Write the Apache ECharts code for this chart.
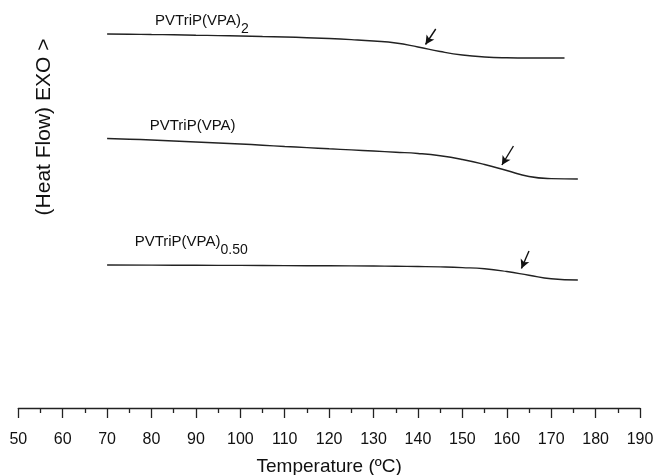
<!DOCTYPE html>
<html><head><meta charset="utf-8">
<script src="https://cdn.jsdelivr.net/npm/echarts@6/dist/echarts.min.js"></script>
<style>html,body{margin:0;padding:0;background:#fff}#c{width:657px;height:475px}</style>
</head><body><div id="c"></div>
<script>
// Temperature (°C) and heat flow (arbitrary units, EXO up)
const temps1 = [70, 75, 80, 85, 90, 95, 100, 105, 110, 115, 120, 125, 130, 135, 140, 145, 150, 155, 160, 165, 170, 173];
const flow1  = [37.4, 37.38, 37.35, 37.32, 37.28, 37.24, 37.2, 37.15, 37.1, 37.03, 36.95, 36.84, 36.7, 36.5, 36.1, 35.65, 35.3, 35.1, 35.02, 35.0, 35.0, 35.0];
const temps2 = [70, 75, 80, 85, 90, 95, 100, 105, 110, 115, 120, 125, 130, 135, 140, 145, 150, 155, 160, 165, 170, 176];
const flow2  = [26.95, 26.88, 26.8, 26.7, 26.6, 26.5, 26.4, 26.28, 26.15, 26.04, 25.92, 25.81, 25.7, 25.58, 25.45, 25.22, 24.85, 24.35, 23.75, 23.15, 22.94, 22.9];
const temps3 = [70, 80, 90, 100, 110, 120, 130, 135, 140, 145, 150, 155, 160, 165, 170, 176];
const flow3  = [14.3, 14.29, 14.27, 14.26, 14.24, 14.22, 14.2, 14.18, 14.15, 14.11, 14.04, 13.92, 13.65, 13.28, 12.92, 12.8];

const seriesNames = ['PVTriP(VPA)', 'PVTriP(VPA)', 'PVTriP(VPA)'];
const subscripts = ['2', '', '0.50'];
const labelAnchors = [[80.8, 38.6], [79.6, 28.1], [76.2, 16.5]];
// Tg arrows: [start(T,flow), end(T,flow)]
const arrows = [
  [[144.0, 37.9], [141.7, 36.35]],
  [[161.5, 26.2], [158.9, 24.3]],
  [[165.0, 15.7], [163.3, 13.95]]
];
const xTicks = {min: 50, max: 190, interval: 10};

const FONT = '"Liberation Sans", Arial, sans-serif';
const pairs = [[temps1, flow1], [temps2, flow2], [temps3, flow3]];

const series = pairs.map(([t, f], i) => ({
  type: 'line',
  name: seriesNames[i] + subscripts[i],
  data: t.map((x, k) => [x, f[k]]),
  smooth: 0.5,
  showSymbol: false,
  lineStyle: {color: '#222', width: 1.4},
  markLine: {
    silent: true,
    symbol: ['none', 'arrow'],
    symbolSize: [7, 9],
    label: {show: false},
    lineStyle: {color: '#111', width: 1.4, type: 'solid'},
    data: [[{coord: arrows[i][0]}, {coord: arrows[i][1]}]]
  },
  markPoint: {
    silent: true,
    symbol: 'circle',
    symbolSize: 0,
    data: [{coord: labelAnchors[i]}],
    label: {
      show: true,
      position: 'right',
      distance: 0,
      formatter: '{m|' + seriesNames[i] + '}' + (subscripts[i] ? '{s|' + subscripts[i] + '}' : ''),
      rich: {
        m: {fontSize: 15, fontFamily: FONT, color: '#111', verticalAlign: 'top', lineHeight: 17},
        s: {fontSize: 14, fontFamily: FONT, color: '#111', verticalAlign: 'top', padding: [9, 0, 0, 0], lineHeight: 16}
      }
    }
  }
}));

const chart = echarts.init(document.getElementById('c'), null, {renderer: 'canvas'});
chart.setOption({
  animation: false,
  backgroundColor: '#fff',
  grid: {left: 18.3, right: 17, top: 0, bottom: 67, containLabel: false, outerBoundsMode: 'none'},
  xAxis: {
    type: 'value',
    min: xTicks.min, max: xTicks.max, interval: xTicks.interval,
    axisLine: {lineStyle: {color: '#222', width: 1.3}},
    axisTick: {length: 10, lineStyle: {color: '#222', width: 1.3}},
    minorTick: {show: true, splitNumber: 2, length: 5, lineStyle: {color: '#222', width: 1.3}},
    splitLine: {show: false},
    axisLabel: {fontSize: 16, fontFamily: FONT, color: '#111', margin: 24},
    name: 'Temperature (ºC)',
    nameLocation: 'middle',
    nameGap: 49,
    nameTextStyle: {fontSize: 19, fontFamily: FONT, color: '#111'}
  },
  yAxis: {
    type: 'value', min: 0, max: 40.8,
    show: false
  },
  graphic: [{
    type: 'text',
    x: 44, y: 127,
    rotation: Math.PI / 2,
    style: {text: '(Heat Flow) EXO >', font: '21px ' + FONT, fill: '#111', align: 'center', verticalAlign: 'middle'}
  }],
  series: series
});
</script></body></html>
